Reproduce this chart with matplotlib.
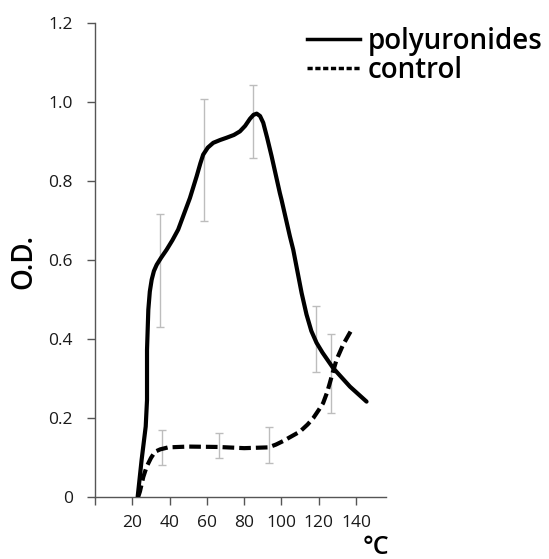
import numpy as np
import matplotlib
matplotlib.use('Agg')
import matplotlib.pyplot as plt
from matplotlib.lines import Line2D

plt.rcParams['font.family'] = ['Open Sans', 'DejaVu Sans']

# curves (temperature in degC, O.D.)
poly_x = [22.9, 25.0, 27.2, 27.9, 27.9, 28.6, 29.4, 30.4, 31.6, 33.1, 35.5, 38.4, 41.5, 44.6,
          47.9, 50.9, 54.5, 56.5, 58.0, 60.5, 63.4, 67.0, 70.6, 74.5, 77.7, 80.5, 83.1,
          85.0, 86.7, 88.5, 90.2, 92.3, 94.7, 99.1, 100.0, 104.5, 106.3, 110.8, 113.4,
          116.0, 118.8, 122.0, 127.7, 136.7, 145.6]
poly_y = [0.0, 0.093, 0.178, 0.245, 0.372, 0.474, 0.52, 0.55, 0.572, 0.588, 0.606, 0.626,
          0.65, 0.677, 0.719, 0.757, 0.812, 0.845, 0.867, 0.885, 0.897, 0.904, 0.91, 0.917,
          0.926, 0.94, 0.958, 0.968, 0.971, 0.965, 0.948, 0.91, 0.863, 0.77, 0.753, 0.66,
          0.626, 0.516, 0.462, 0.42, 0.39, 0.365, 0.326, 0.279, 0.241]

ctrl_x = [23.2, 24.1, 25.9, 27.7, 30.0, 32.2, 35.0, 39.3, 50.0, 66.0, 80.0, 93.0, 97.0, 100.9,
          105.0, 109.9, 114.0, 117.0, 120.0, 122.3, 124.5, 125.9, 127.5, 129.5, 133.0, 137.2]
ctrl_y = [0.0, 0.013, 0.05, 0.076, 0.098, 0.114, 0.12, 0.125, 0.127, 0.126, 0.123, 0.125,
          0.132, 0.141, 0.152, 0.165, 0.183, 0.199, 0.22, 0.237, 0.265, 0.288, 0.315, 0.347,
          0.385, 0.42]

# error bars: position, lower end, upper end
poly_err_x = [34.8, 58.2, 84.9, 118.5]
poly_err_lo = [0.431, 0.698, 0.859, 0.316]
poly_err_hi = [0.717, 1.009, 1.043, 0.484]

ctrl_err_x = [35.7, 66.6, 93.4, 126.3]
ctrl_err_lo = [0.080, 0.097, 0.086, 0.213]
ctrl_err_hi = [0.169, 0.161, 0.176, 0.413]

x_ticks = [0, 20, 40, 60, 80, 100, 120, 140]
x_ticklabels = ['', '20', '40', '60', '80', '100', '120', '140']
y_ticks = [0, 0.2, 0.4, 0.6, 0.8, 1.0, 1.2]
y_ticklabels = ['0', '0.2', '0.4', '0.6', '0.8', '1.0', '1.2']

fig = plt.figure(figsize=(5.49, 5.59), dpi=100)
ax = fig.add_axes([0.173, 0.1115, 0.530, 0.8468])

for ex, lo, hi in [(poly_err_x, poly_err_lo, poly_err_hi), (ctrl_err_x, ctrl_err_lo, ctrl_err_hi)]:
    lo = np.array(lo)
    hi = np.array(hi)
    mid = (lo + hi) / 2
    ax.errorbar(ex, mid, yerr=(hi - lo) / 2, fmt='none', ecolor='#bdbdbd',
                elinewidth=1, capsize=3, capthick=1, zorder=1)

ax.plot(poly_x, poly_y, color='black', lw=3, solid_capstyle='round',
        solid_joinstyle='round', zorder=3)
ax.plot(ctrl_x, ctrl_y, color='black', lw=3, dashes=(2.8, 1.2), zorder=3)

ax.set_xlim(0, 156)
ax.set_ylim(0, 1.2)
ax.set_xticks(x_ticks)
ax.set_xticklabels(x_ticklabels)
ax.set_yticks(y_ticks)
ax.set_yticklabels(y_ticklabels)

for side in ['top', 'right']:
    ax.spines[side].set_visible(False)
for side in ['left', 'bottom']:
    ax.spines[side].set_color('#555555')
    ax.spines[side].set_linewidth(1)

ax.tick_params(axis='both', direction='out', length=6, width=1, color='#555555',
               labelsize=12.5, labelcolor='#1a1a1a')
ax.tick_params(axis='y', pad=10)
ax.tick_params(axis='x', pad=7)

handles = [Line2D([], [], color='black', lw=2.5),
           Line2D([], [], color='black', lw=2.5, dashes=(1.5, 0.75))]
ax.legend(handles, ['polyuronides', 'control'], loc='upper left',
          bbox_to_anchor=(307 / 549, 1 - 27 / 559), bbox_transform=fig.transFigure,
          frameon=False, borderpad=0, borderaxespad=0, handlelength=1.9,
          handletextpad=0.3, labelspacing=0.0,
          prop={'size': 20, 'weight': 'semibold'})

fig.text(24 / 549, 1 - 261 / 559, 'O.D.', rotation=90, ha='center', va='center',
         fontsize=20, fontweight='semibold')
fig.text(363 / 549, 1 - 554 / 559, '°C', ha='left', va='baseline',
         fontsize=18, fontweight='semibold')

fig.savefig('out.png', dpi=100)
